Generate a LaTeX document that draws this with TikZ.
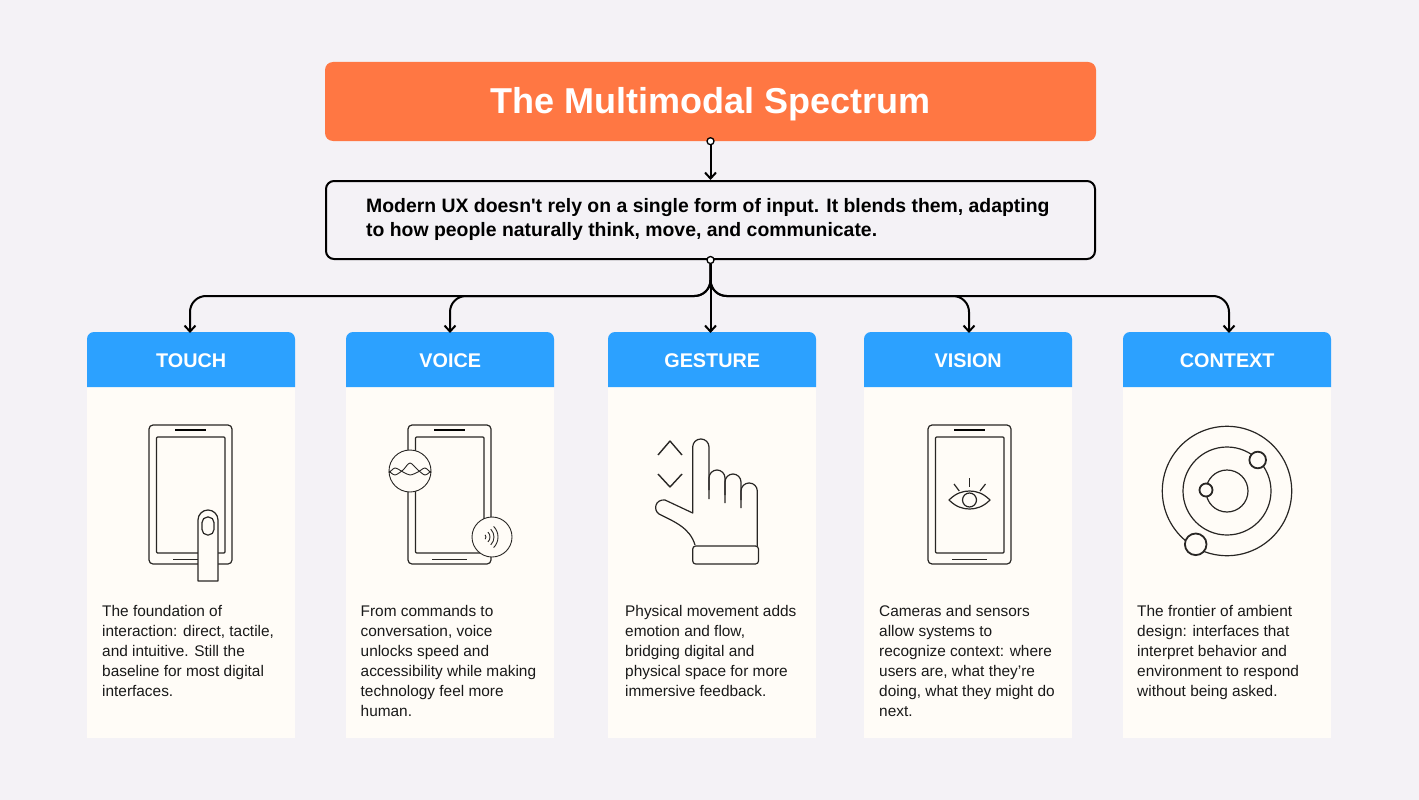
\documentclass[tikz,border=0pt]{standalone}
\usepackage{fontspec}
\setmainfont{Liberation Sans}
\usetikzlibrary{positioning, arrows.meta}
\definecolor{PageGray}{RGB}{244,242,246}
\definecolor{TitleOrange}{RGB}{255,119,67}
\definecolor{HeadBlue}{RGB}{44,161,255}
\definecolor{CardCream}{RGB}{255,252,247}
\definecolor{IconInk}{RGB}{40,38,36}
\tikzset{
  titlebox/.style={fill=TitleOrange, rounded corners=8pt, minimum width=771pt, minimum height=79pt, text height=30pt, text depth=5.6pt, text=white, font=\fontsize{36}{40}\selectfont\bfseries},
  introbox/.style={draw=black, line width=2pt, fill=PageGray, rounded corners=8pt, minimum width=769pt, minimum height=78pt},
  introtext/.style={anchor=north west, inner sep=0pt, align=left, font=\fontsize{19.4}{24}\selectfont\bfseries},
  dotmark/.style={circle, draw=black, line width=1.3pt, fill=white, inner sep=0pt, minimum size=7pt},
  link/.style={-{Straight Barb[length=6pt,width=11pt]}, line width=2pt, black},
  bodybox/.style={fill=CardCream, anchor=north west, minimum width=208pt, minimum height=351pt, inner sep=0pt},
  headlabel/.style={anchor=north west, minimum width=208pt, minimum height=55pt, inner sep=0pt, text=white, font=\fontsize{19.8}{24}\selectfont\bfseries},
  bodytext/.style={anchor=north west, inner sep=0pt, align=left, text=black!90, font=\fontsize{15.4}{20}\selectfont},
  icon/.style={draw=IconInk, line width=1.2pt, line join=round},
  iconthick/.style={draw=IconInk, line width=1.8pt}
}
\newcommand{\phoneicon}[1]{%
  \begin{scope}[shift={(#1,0)}]
    \draw[icon, rounded corners=4pt, fill=CardCream] (0,425) rectangle (83,564);
    \draw[icon, rounded corners=1pt] (7.5,437) rectangle (76,553);
    \draw[line width=2.6pt, black] (26,430) -- (57,430);
    \draw[icon, line width=0.8pt] (24,559) -- (59,559);
  \end{scope}}
\begin{document}
\begin{tikzpicture}[x=1pt, y=-1pt]
  \useasboundingbox (0,0) rectangle (1419,800);
  \fill[PageGray] (0,0) rectangle (1419,800);

  % Cards
  \node[bodybox] (touchbody) at (87,387) {};
  \node[bodybox] (voicebody) at (346,387) {};
  \node[bodybox] (gesturebody) at (608,387) {};
  \node[bodybox] (visionbody) at (864,387) {};
  \node[bodybox] (contextbody) at (1123,387) {};
  \foreach \x in {87,346,608,864,1123}
    \fill[HeadBlue] (\x,387) [rounded corners=7pt] -- (\x,332) -- ++(208,0) [sharp corners] -- ++(0,55) -- cycle;

  % Nodes
  \node[titlebox] (title) at (710.5,101.5) {The Multimodal Spectrum};
  \node[introbox] (intro) at (710.5,220) {};
  \node[introtext] (introlabel) at (366,198.5) {Modern UX doesn\textquotesingle t rely on a single form of input. It blends them, adapting\\to how people naturally think, move, and communicate.};
  \node[headlabel] (touchhead) at (87,333) {TOUCH};
  \node[headlabel] (voicehead) at (346,333) {VOICE};
  \node[headlabel] (gesturehead) at (608,333) {GESTURE};
  \node[headlabel] (visionhead) at (864,333) {VISION};
  \node[headlabel] (contexthead) at (1123,333) {CONTEXT};
  \node[dotmark] (titledot) at (title.south) {};
  \node[dotmark] (introdot) at (intro.south) {};
  \coordinate (touchbus) at (190,296);
  \coordinate (voicebus) at (450,296);
  \coordinate (visionbus) at (969,296);
  \coordinate (contextbus) at (1229,296);

  % Connections
  \draw[link] (titledot.south) -- (intro.north);
  \draw[link] (introdot.south) -- (introdot.south |- gesturehead.north);
  \foreach \n in {touch,voice,vision,context}
    \draw[link, rounded corners=16pt] (introdot.south) |- (\n bus) -- (\n bus |- \n head.north);

  % Labels
  \node[bodytext] (touchtext) at (102,605) {The foundation of\\interaction: direct, tactile,\\and intuitive. Still the\\baseline for most digital\\interfaces.};
  \node[bodytext] (voicetext) at (360.5,605) {From commands to\\conversation, voice\\unlocks speed and\\accessibility while making\\technology feel more\\human.};
  \node[bodytext] (gesturetext) at (625,605) {Physical movement adds\\emotion and flow,\\bridging digital and\\physical space for more\\immersive feedback.};
  \node[bodytext] (visiontext) at (879,605) {Cameras and sensors\\allow systems to\\recognize context: where\\users are, what they're\\doing, what they might do\\next.};
  \node[bodytext] (contexttext) at (1137,605) {The frontier of ambient\\design: interfaces that\\interpret behavior and\\environment to respond\\without being asked.};

  % Touch icon
  \phoneicon{149}
  \draw[icon, fill=CardCream, rounded corners=10pt] (198,581) [sharp corners] -- (198,530) [rounded corners=10pt] -- (198,510) -- (218,510) [sharp corners] -- (218,581) -- cycle;
  \draw[icon, rounded corners=5.5pt] (202,517) rectangle (214,535);

  % Voice icon
  \phoneicon{408}
  \draw[icon, fill=CardCream, line width=0.9pt] (410,471) circle (21);
  \draw[icon, line width=0.9pt] plot[smooth] coordinates {(389,473) (395,468) (403,472) (410,475) (418,472) (425,468) (431,473)};
  \draw[icon, line width=0.9pt] plot[smooth] coordinates {(389,471) (395,475) (403,470) (410,463) (418,470) (425,475) (431,471)};
  \draw[icon, fill=CardCream, line width=0.9pt] (492,537) circle (20);
  \foreach \r in {3,7,11,15}
    \draw[icon, line width=0.9pt] ([shift={(-45:\r)}]483,537) arc (-45:45:\r);

  % Gesture icon
  \draw[icon, line width=1.4pt] (658,455) -- (670,441) -- (682,455);
  \draw[icon, line width=1.4pt] (658,474) -- (670,487) -- (682,474);
  \draw[icon] (695,545) .. controls (690,528) and (675,522) .. (659,514) .. controls (653,510) and (655,499) .. (665,500) -- (692.7,513) [rounded corners=8pt] -- (692.7,439) -- (709,439) [sharp corners] -- (709,499);
  \draw[icon, rounded corners=8pt] (709,490) -- (709,470) -- (725,470) [sharp corners] -- (725,503);
  \draw[icon, rounded corners=8pt] (725,495) -- (725,474) -- (741,474) [sharp corners] -- (741,508);
  \draw[icon, rounded corners=8pt] (741,500) -- (741,483) -- (757.3,483) [sharp corners] -- (757.3,546);
  \draw[icon, rounded corners=3pt] (692.7,546) rectangle (758.5,564);

  % Vision icon
  \phoneicon{928}
  \draw[icon] (949,500) .. controls (956,493) and (963,491) .. (969.5,491) .. controls (976,491) and (983,493) .. (990,500) .. controls (983,507) and (976,509) .. (969.5,509) .. controls (963,509) and (956,507) .. (949,500) -- cycle;
  \draw[icon] (969.5,500) circle (7);
  \draw[icon] (969.5,478) -- (969.5,487);
  \draw[icon] (954,484) -- (959.3,491);
  \draw[icon] (985.5,484) -- (980,491);

  % Context icon
  \draw[icon] (1227,491) circle (21);
  \draw[icon] (1227,491) circle (44);
  \draw[icon] (1227,491) circle (64.7);
  \draw[iconthick, fill=CardCream] (1206,490) circle (6.5);
  \draw[iconthick, fill=CardCream] (1257.7,460) circle (8.3);
  \draw[iconthick, fill=CardCream] (1195.7,544.3) circle (10.8);
\end{tikzpicture}
\end{document}
